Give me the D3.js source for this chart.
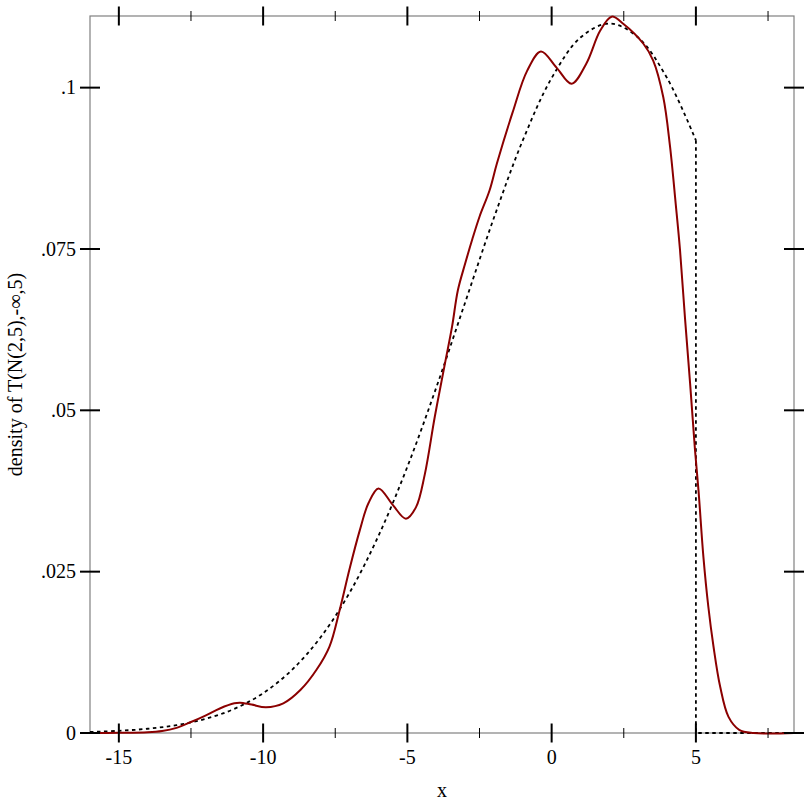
<!DOCTYPE html>
<html>
<head>
<meta charset="utf-8">
<script src="https://cdn.jsdelivr.net/npm/d3@7"></script>
<style>
  body { margin: 0; background: #fff; }
  text { font-family: "Liberation Serif", "DejaVu Serif", serif; fill: #000; }
</style>
</head>
<body>
<svg id="chart"></svg>
<script>
// density estimate of samples (red)
const kdeX = [-16, -15, -14, -13.5, -13, -12.5, -12, -11.5, -11, -10.8, -10.4, -9.9, -9.3, -8.7, -8.15,
  -7.7, -7.35, -7.0, -6.65, -6.35, -6.0, -5.5, -5.05, -4.7, -4.4, -4.05, -3.7, -3.45, -3.25, -3.0,
  -2.75, -2.5, -2.15, -1.9, -1.35, -0.85, -0.37, 0.17, 0.69, 1.2, 1.68, 2.08, 2.48, 3.18, 3.52,
  3.87, 4.1, 4.3, 4.45, 4.62, 4.8, 4.97, 5.09, 5.26, 5.43, 5.61, 5.84, 6.13, 6.5, 7.0, 8.4];
const kdeY = [0, 0.00002, 0.0001, 0.0003, 0.0008, 0.0017, 0.0027, 0.0038, 0.0046, 0.0047, 0.0044, 0.0040, 0.0046, 0.0067, 0.0098,
  0.0134, 0.0190, 0.0255, 0.0314, 0.0356, 0.0379, 0.0353, 0.0332, 0.0350, 0.0400, 0.0490, 0.0572, 0.0630, 0.0686, 0.0727,
  0.0765, 0.0800, 0.0841, 0.0882, 0.0962, 0.1026, 0.1056, 0.1031, 0.1006, 0.1037, 0.1088, 0.1110, 0.1099, 0.1068, 0.1042,
  0.0985, 0.0910, 0.0820, 0.0748, 0.0644, 0.0541, 0.0438, 0.0376, 0.0273, 0.0196, 0.0134, 0.0072, 0.0025, 0.0005, 0, 0];

// truncated normal density (dashed)
const pdfX = [-16, -15, -14, -13, -12, -11, -10, -9, -8, -7, -6, -5, -4, -3, -2, -1, 0, 1, 2, 3, 4, 5];
const pdfY = [0.00017, 0.00034, 0.00066, 0.00122, 0.00218, 0.00374, 0.00617, 0.00978, 0.01488, 0.02176, 0.03057,
  0.04126, 0.05351, 0.06668, 0.07983, 0.09183, 0.10149, 0.10776, 0.10994, 0.10776, 0.10149, 0.09183];
const pdfTailX = [5, 5, 8.4];
const pdfTailY = [0.09183, 0, 0];

const xMajor = [-15, -10, -5, 0, 5];
const xMinor = [-12.5, -7.5, -2.5, 2.5, 7.5];
const yMajor = [0, 0.025, 0.05, 0.075, 0.1];
const yLabels = ["0", ".025", ".05", ".075", ".1"];

const width = 812, height = 812;
const margin = { top: 16, right: 18, bottom: 79, left: 90 };

const svg = d3.select("#chart").attr("width", width).attr("height", height);

const x = d3.scaleLinear().domain([-16, 8.4]).range([margin.left, width - margin.right]);
const y = d3.scaleLinear().domain([0, 0.1111]).range([height - margin.bottom, margin.top]);

const x0 = margin.left, x1 = width - margin.right;
const y0 = height - margin.bottom, y1 = margin.top;

// frame
svg.append("rect")
  .attr("x", x0).attr("y", y1)
  .attr("width", x1 - x0).attr("height", y0 - y1)
  .attr("fill", "none")
  .attr("stroke", "#808080")
  .attr("stroke-width", 1.2);

// dashed density
const pdfLine = d3.line().x(d => x(d[0])).y(d => y(d[1])).curve(d3.curveCatmullRom);
const tailLine = d3.line().x(d => x(d[0])).y(d => y(d[1]));

svg.append("path")
  .attr("d", pdfLine(pdfX.map((v, i) => [v, pdfY[i]])))
  .attr("fill", "none").attr("stroke", "#000").attr("stroke-width", 1.8)
  .attr("stroke-dasharray", "3.5,3.5");

svg.append("path")
  .attr("d", tailLine(pdfTailX.map((v, i) => [v, pdfTailY[i]])))
  .attr("fill", "none").attr("stroke", "#000").attr("stroke-width", 1.8)
  .attr("stroke-dasharray", "3.5,3.5");

// red kde
const kdeLine = d3.line().x(d => x(d[0])).y(d => Math.min(y(d[1]), y(0))).curve(d3.curveCatmullRom.alpha(0.5));
svg.append("path")
  .attr("d", kdeLine(kdeX.map((v, i) => [v, kdeY[i]])))
  .attr("fill", "none").attr("stroke", "#8b0000").attr("stroke-width", 2);

// ticks, both sides
const ticks = svg.append("g").attr("stroke", "#000");
[y0, y1].forEach(yy => {
  ticks.selectAll(null).data(xMajor).enter().append("line")
    .attr("x1", d => x(d)).attr("x2", d => x(d))
    .attr("y1", yy - 9.5).attr("y2", yy + 9.5)
    .attr("stroke-width", 2);
  ticks.selectAll(null).data(xMinor).enter().append("line")
    .attr("x1", d => x(d)).attr("x2", d => x(d))
    .attr("y1", yy - 5).attr("y2", yy + 5)
    .attr("stroke-width", 1);
});
[x0, x1].forEach(xx => {
  ticks.selectAll(null).data(yMajor).enter().append("line")
    .attr("x1", xx - 10).attr("x2", xx + 10)
    .attr("y1", d => y(d)).attr("y2", d => y(d))
    .attr("stroke-width", 2);
});

// tick labels
svg.selectAll("text.xlab")
  .data(xMajor).enter().append("text")
  .attr("class", "xlab")
  .attr("x", d => x(d)).attr("y", y0 + 31)
  .attr("text-anchor", "middle")
  .style("font-size", "20px")
  .text(d => d);

svg.selectAll("text.ylab")
  .data(yMajor).enter().append("text")
  .attr("class", "ylab")
  .attr("x", x0 - 14).attr("y", d => y(d))
  .attr("dy", "0.33em")
  .attr("text-anchor", "end")
  .style("font-size", "20px")
  .text((d, i) => yLabels[i]);

// axis titles
svg.append("text")
  .attr("x", (x0 + x1) / 2).attr("y", 797)
  .attr("text-anchor", "middle")
  .style("font-size", "20px")
  .text("x");

svg.append("text")
  .attr("transform", `translate(22,${(y0 + y1) / 2}) rotate(-90)`)
  .attr("text-anchor", "middle")
  .style("font-size", "20px")
  .text("density of T(N(2,5),-∞,5)");
</script>
</body>
</html>
